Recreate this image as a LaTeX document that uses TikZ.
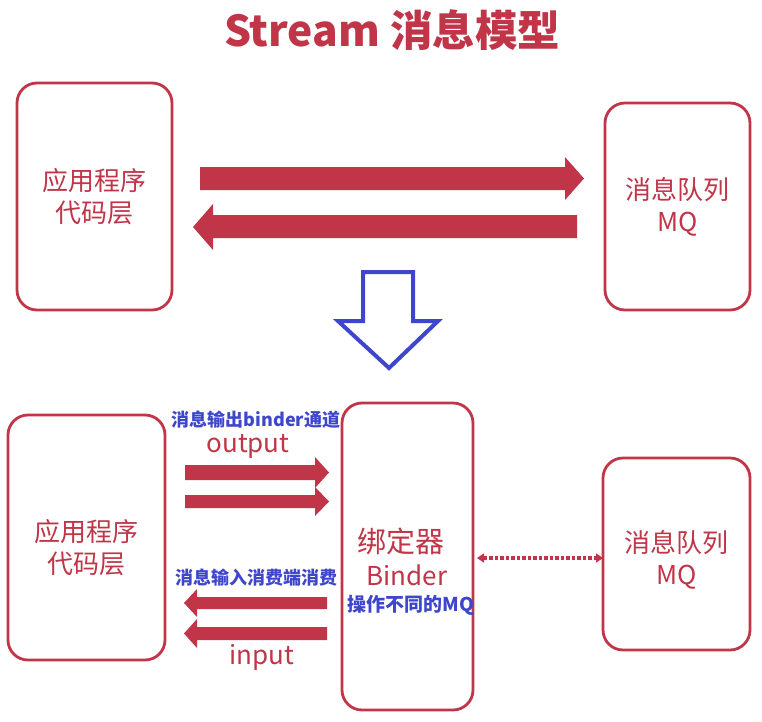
\documentclass[tikz,border=0pt]{standalone}
\usepackage{fontspec}
\setmainfont{Noto Sans CJK SC}
\usetikzlibrary{arrows.meta}
\definecolor{myred}{RGB}{192,53,72}
\definecolor{myblue}{RGB}{62,70,204}
\tikzset{
  box/.style={draw=myred, line width=2.8pt, rounded corners=20pt, fill=white},
  redtxt/.style={text=myred, font=\fontsize{26}{32}\selectfont, align=center},
  bluetxt/.style={text=myblue, font=\fontsize{18}{21}\selectfont\bfseries, inner sep=0pt},
  fatarrow/.style={fill=myred, draw=none},
}
\begin{document}
\begin{tikzpicture}[x=1pt,y=-1pt]
\useasboundingbox (0,0) rectangle (762,721);
% title
\node[text=myred, font=\fontsize{42.5}{48}\selectfont\bfseries] (title) at (392,30) {Stream 消息模型};
% top boxes
\draw[box] (17,83) rectangle (172,310);
\node[redtxt] (app1) at (94.5,197) {应用程序\\代码层};
\draw[box] (605,103) rectangle (750,310);
\node[redtxt] (mq1) at (677.5,207) {消息队列\\MQ};
% top arrows
\fill[fatarrow] (200,167) -- (565,167) -- (565,157) -- (584,178.5) -- (565,200) -- (565,190) -- (200,190) -- cycle;
\fill[fatarrow] (577,215) -- (213,215) -- (213,204) -- (193,227) -- (213,250) -- (213,238) -- (577,238) -- cycle;
% blue down arrow
\draw[myblue, line width=4pt, line join=miter, fill=white] (363,272) -- (413,272) -- (413,321) -- (438,321) -- (389,368) -- (338,321) -- (363,321) -- cycle;
% bottom boxes
\draw[box] (8,415) rectangle (165,660);
\node[redtxt] (app2) at (86.5,548) {应用程序\\代码层};
\draw[box] (342,403) rectangle (473,710);
\node[text=myred, font=\fontsize{29}{34}\selectfont, inner sep=0pt] (bind1) at (401,541) {绑定器};
\node[text=myred, font=\fontsize{26}{30}\selectfont, inner sep=0pt] (bind2) at (407,575) {Binder};
\node[bluetxt, font=\fontsize{19}{22}\selectfont\bfseries] (bind3) at (411,605) {操作不同的MQ};
\draw[box] (603,458) rectangle (750,650);
\node[redtxt] (mq2) at (676.5,560) {消息队列\\MQ};
% output arrows
\node[bluetxt] (outlbl) at (256,420) {消息输出binder通道};
\node[text=myred, font=\fontsize{26}{30}\selectfont, inner sep=0pt] (outtxt) at (248,446) {output};
\fill[fatarrow] (185,465) -- (315,465) -- (315,457) -- (329,472.5) -- (315,488) -- (315,480) -- (185,480) -- cycle;
\fill[fatarrow] (185,495) -- (315,495) -- (315,487) -- (329,501.5) -- (315,516) -- (315,508) -- (185,508) -- cycle;
% input arrows
\node[bluetxt] (inlbl) at (256,578) {消息输入消费端消费};
\fill[fatarrow] (327,597) -- (197,597) -- (197,589) -- (184,603) -- (197,617) -- (197,609) -- (327,609) -- cycle;
\fill[fatarrow] (327,627) -- (197,627) -- (197,619) -- (184,633.5) -- (197,648) -- (197,640) -- (327,640) -- cycle;
\node[text=myred, font=\fontsize{26}{30}\selectfont, inner sep=0pt] (intxt) at (262,657) {input};
% dotted connector
\coordinate (d1) at (477,558);
\coordinate (d2) at (603,558);
\draw[myred, line width=3.5pt, dotted, {Triangle[length=7pt,width=9pt]}-{Triangle[length=7pt,width=9pt]}] (d1) -- (d2);
\end{tikzpicture}
\end{document}
